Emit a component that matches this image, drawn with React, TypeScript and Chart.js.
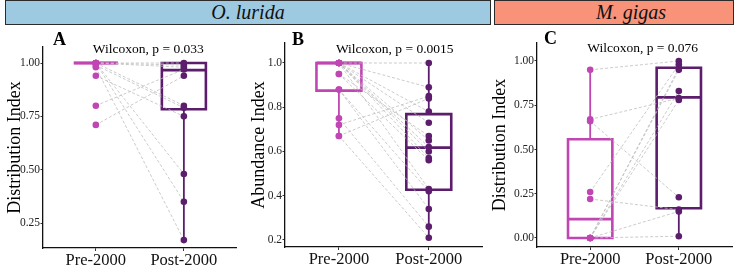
import React, { useEffect, useRef } from "react";
import { Chart, registerables } from "chart.js";

Chart.register(...registerables);

const SERIF = '"Liberation Serif", "Times New Roman", serif';
Chart.defaults.font.family = SERIF;

// ---------- data ----------
const categories = ["Pre-2000", "Post-2000"];
const speciesLabels = ["O. lurida", "M. gigas"];

// Panel A: O. lurida distribution index (paired sites)
const aPre = [1, 1, 1, 1, 1, 1, 0.99, 0.98, 0.94, 0.8, 0.71];
const aPost = [1, 0.99, 0.98, 0.8, 0.48, 0.35, 0.79, 0.17, 0.75, 0.97, 0.94];
// box stats: [lower whisker, Q1, median, Q3, upper whisker]
const aBoxPre = [1, 1, 1, 1, 1];
const aBoxPost = [0.17, 0.783, 0.967, 1.0, 1.0];
const aTicks = [0.25, 0.5, 0.75, 1.0];
const aLabel = "Wilcoxon, p = 0.033";

// Panel B: O. lurida abundance index
const bPre = [1, 1, 1, 1, 1, 1, 1, 1, 1, 0.95, 0.95, 0.88, 0.88, 0.75, 0.72, 0.67, 0.67];
const bPost = [1.0, 0.89, 0.78, 0.73, 0.65, 0.62, 0.6, 0.57, 0.43, 0.67, 0.56, 0.42, 0.34, 0.26, 0.85, 0.84, 0.21];
const bBoxPre = [0.674, 0.875, 1.0, 1.0, 1.0];
const bBoxPost = [0.21, 0.427, 0.617, 0.769, 1.0];
const bTicks = [0.2, 0.4, 0.6, 0.8, 1.0];
const bLabel = "Wilcoxon, p = 0.0015";

// Panel C: M. gigas distribution index
const cPre = [0.95, 0.67, 0.66, 0.26, 0.22, 0, 0, 0, 0, 0, 0];
const cPost = [1.0, 0.79, 0.23, 0.98, 0.16, 0.96, 0.95, 0.83, 0.78, 0.15, 0.01];
const cBoxPre = [0, 0, 0.107, 0.558, 0.955];
const cBoxPost = [0.005, 0.168, 0.795, 0.962, 1.0];
const cTicks = [0, 0.25, 0.5, 0.75, 1.0];
const cLabel = "Wilcoxon, p = 0.076";

// ---------- styles ----------
const PRE = "#C046B4";
const POST = "#5C1D6C";
const DASH = "#BEBEBE";

type PanelProps = {
  left: number;
  width: number;
  yAxisWidth: number;
  rightPad: number;
  topPad: number;
  xAxisHeight: number;
  yMin: number;
  yMax: number;
  yTicks: number[];
  decimals: number;
  yTitle: string;
  titlePad: number;
  letter: string;
  letterDx: number;
  letterY: number;
  pLabel: string;
  pLabelY: number;
  pre: number[];
  post: number[];
  boxPre: number[];
  boxPost: number[];
};

function boxDatasets(box: number[], x: number, color: string) {
  const [wlo, q1, med, q3, whi] = box;
  const hw = 0.25;
  const base = {
    showLine: true,
    pointRadius: 0,
    pointHoverRadius: 0,
    borderColor: color,
    borderJoinStyle: "miter" as const,
    borderCapStyle: "butt" as const,
    order: 2,
  };
  return [
    {
      ...base,
      borderWidth: 2.6,
      data: [
        { x, y: q1 },
        { x: x + hw, y: q1 },
        { x: x + hw, y: q3 },
        { x: x - hw, y: q3 },
        { x: x - hw, y: q1 },
        { x, y: q1 },
      ],
    },
    { ...base, borderWidth: 2.8, data: [{ x: x - hw, y: med }, { x: x + hw, y: med }] },
    { ...base, borderWidth: 1.8, data: [{ x, y: wlo }, { x, y: q1 }] },
    { ...base, borderWidth: 1.8, data: [{ x, y: q3 }, { x, y: whi }] },
  ];
}

function Panel(p: PanelProps) {
  const ref = useRef<HTMLCanvasElement | null>(null);
  useEffect(() => {
    if (!ref.current) return;
    const datasets: any[] = [];
    datasets.push({
      data: p.pre.map((v) => ({ x: 1, y: v })),
      backgroundColor: PRE,
      borderWidth: 0,
      pointRadius: 3.3,
      pointHoverRadius: 3.3,
      showLine: false,
      order: 0,
    });
    datasets.push({
      data: p.post.map((v) => ({ x: 2, y: v })),
      backgroundColor: POST,
      borderWidth: 0,
      pointRadius: 3.3,
      pointHoverRadius: 3.3,
      showLine: false,
      order: 0,
    });
    p.pre.forEach((v, i) => {
      datasets.push({
        data: [
          { x: 1, y: v },
          { x: 2, y: p.post[i] },
        ],
        showLine: true,
        borderColor: DASH,
        borderWidth: 0.8,
        borderDash: [3, 2],
        pointRadius: 0,
        pointHoverRadius: 0,
        order: 1,
      });
    });
    datasets.push(...boxDatasets(p.boxPre, 1, PRE));
    datasets.push(...boxDatasets(p.boxPost, 2, POST));

    const annot = {
      id: "annot",
      afterDraw(chart: any) {
        const { ctx, chartArea, scales } = chart;
        ctx.save();
        ctx.fillStyle = "#000";
        ctx.textBaseline = "middle";
        ctx.textAlign = "left";
        ctx.font = `bold 18px ${SERIF}`;
        ctx.fillText(p.letter, chartArea.left + p.letterDx, p.letterY);
        ctx.font = `13.5px ${SERIF}`;
        ctx.fillText(p.pLabel, scales.x.getPixelForValue(1) - 3, p.pLabelY);
        ctx.restore();
      },
    };

    const chart = new Chart(ref.current, {
      type: "scatter",
      data: { datasets },
      options: {
        animation: false,
        responsive: false,
        events: [],
        layout: { padding: { top: p.topPad, right: p.rightPad, left: 0, bottom: 0 } },
        plugins: { legend: { display: false }, tooltip: { enabled: false } },
        scales: {
          x: {
            type: "linear",
            min: 0.4,
            max: 2.6,
            afterBuildTicks: (s: any) => {
              s.ticks = [{ value: 1 }, { value: 2 }];
            },
            afterFit: (s: any) => {
              s.height = p.xAxisHeight;
            },
            ticks: {
              callback: (v: any) => categories[Number(v) - 1] ?? "",
              font: { family: SERIF, size: 16.5 },
              color: "#111",
              padding: 0,
              maxRotation: 0,
              autoSkip: false,
            },
            grid: { drawOnChartArea: false, drawTicks: true, tickLength: 3, color: "#333" },
            border: { display: true, color: "#111", width: 1.3 },
          },
          y: {
            type: "linear",
            min: p.yMin,
            max: p.yMax,
            afterBuildTicks: (s: any) => {
              s.ticks = p.yTicks.map((v) => ({ value: v }));
            },
            afterFit: (s: any) => {
              s.width = p.yAxisWidth;
            },
            ticks: {
              callback: (v: any) => Number(v).toFixed(p.decimals),
              font: { family: SERIF, size: 11.5 },
              color: "#222",
              padding: 0.5,
              autoSkip: false,
            },
            grid: { drawOnChartArea: false, drawTicks: true, tickLength: 2.5, color: "#333" },
            border: { display: true, color: "#111", width: 1.3 },
            title: {
              display: true,
              text: p.yTitle,
              font: { family: SERIF, size: 18, lineHeight: 1 },
              color: "#000",
              padding: { top: p.titlePad, bottom: 0 },
            },
          },
        },
      },
      plugins: [annot],
    });
    return () => chart.destroy();
  }, []);
  return (
    <canvas
      ref={ref}
      width={p.width}
      height={240}
      style={{ position: "absolute", left: p.left, top: 28, width: p.width, height: 240 }}
    />
  );
}

const stripBase: React.CSSProperties = {
  position: "absolute",
  top: 0,
  height: 23,
  border: "1.5px solid #2b2b2b",
  fontFamily: SERIF,
  fontStyle: "italic",
  fontSize: 20,
  lineHeight: "23px",
  textAlign: "center",
  color: "#111",
  boxSizing: "content-box",
};

export default function App() {
  return (
    <div style={{ position: "absolute", left: 0, top: 0, width: 738, height: 268, background: "#fff", overflow: "hidden" }}>
      <div style={{ ...stripBase, left: 5, width: 484, background: "#9ECAE1" }}>{speciesLabels[0]}</div>
      <div style={{ ...stripBase, left: 494, width: 204, paddingLeft: 34, background: "#F8937A" }}>{speciesLabels[1]}</div>
      <Panel
        left={0}
        width={240}
        yAxisWidth={43}
        rightPad={3}
        topPad={19}
        xAxisHeight={20}
        yMin={0.133}
        yMax={1.075}
        yTicks={aTicks}
        decimals={2}
        yTitle="Distribution Index"
        titlePad={6}
        letter="A"
        letterDx={10}
        letterY={12}
        pLabel={aLabel}
        pLabelY={21}
        pre={aPre}
        post={aPost}
        boxPre={aBoxPre}
        boxPost={aBoxPost}
      />
      <Panel
        left={240}
        width={246}
        yAxisWidth={45}
        rightPad={3}
        topPad={15}
        xAxisHeight={21}
        yMin={0.168}
        yMax={1.0904}
        yTicks={bTicks}
        decimals={1}
        yTitle="Abundance Index"
        titlePad={10}
        letter="B"
        letterDx={7}
        letterY={12}
        pLabel={bLabel}
        pLabelY={21}
        pre={bPre}
        post={bPost}
        boxPre={bBoxPre}
        boxPost={bBoxPost}
      />
      <Panel
        left={486}
        width={252}
        yAxisWidth={51}
        rightPad={6}
        topPad={15}
        xAxisHeight={21}
        yMin={-0.051}
        yMax={1.1017}
        yTicks={cTicks}
        decimals={2}
        yTitle="Distribution Index"
        titlePad={5}
        letter="C"
        letterDx={7}
        letterY={11}
        pLabel={cLabel}
        pLabelY={20}
        pre={cPre}
        post={cPost}
        boxPre={cBoxPre}
        boxPost={cBoxPost}
      />
    </div>
  );
}
